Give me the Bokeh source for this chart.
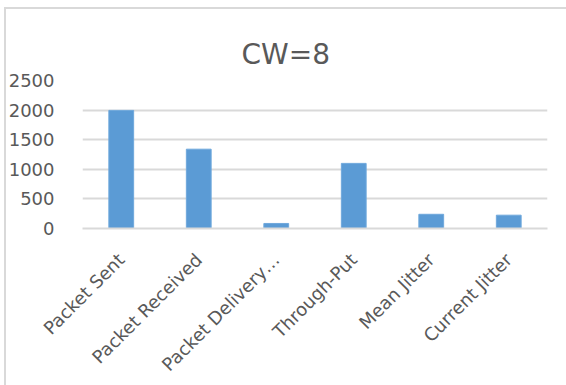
import math
from bokeh.plotting import figure
from bokeh.models import FactorRange, Range1d, FixedTicker, ColumnDataSource, InlineStyleSheet
from bokeh.embed import file_html
from bokeh.resources import INLINE

categories = ["Packet Sent", "Packet Received", "Packet Delivery\u2026", "Through-Put", "Mean Jitter", "Current Jitter"]
values = [1995, 1340, 85, 1100, 240, 225]
y_ticks = [0, 500, 1000, 1500, 2000, 2500]
title_text = "CW=8"

FONT = "DejaVu Sans"
GRAY = "#595959"
GRID = "#d9d9d9"

p = figure(width=566, height=385, output_backend="svg", toolbar_location=None,
           x_range=FactorRange(*categories, range_padding=0),
           y_range=Range1d(0, 2500),
           min_border_left=82, min_border_right=19, min_border_top=80, min_border_bottom=156)

p.stylesheets = [InlineStyleSheet(css=(
    ":host::after { content: ''; position: absolute; left: 4px; top: 7px; "
    "width: 700px; height: 500px; border-left: 2px solid #d9d9d9; border-top: 2px solid #d9d9d9; "
    "pointer-events: none; }"
))]

src = ColumnDataSource(dict(cat=categories, val=values))
p.vbar(x="cat", top="val", width=0.32, source=src, fill_color="#5B9BD5", line_color="#6FA8DC", line_width=1)

p.title.text = title_text
p.title.align = "left"
p.title.offset = 159
p.title.standoff = 19
p.title.text_font = FONT
p.title.text_font_size = "28px"
p.title.text_font_style = "normal"
p.title.text_color = GRAY

p.outline_line_color = None
p.xgrid.grid_line_color = None
p.ygrid.grid_line_color = GRID
p.ygrid.grid_line_width = 2
p.yaxis.ticker = FixedTicker(ticks=y_ticks)
p.yaxis.axis_line_color = None
p.yaxis.major_tick_line_color = None
p.yaxis.minor_tick_line_color = None
p.yaxis.major_label_text_color = GRAY
p.yaxis.major_label_text_font = FONT
p.yaxis.major_label_text_font_size = "18px"
p.yaxis.major_label_standoff = 22

p.xaxis.axis_line_color = GRID
p.xaxis.axis_line_width = 2
p.xaxis.major_tick_line_color = None
p.xaxis.minor_tick_line_color = None
p.xaxis.major_label_orientation = math.pi / 4
p.xaxis.major_label_text_color = GRAY
p.xaxis.major_label_text_font = FONT
p.xaxis.major_label_text_font_size = "18px"
p.xaxis.major_label_standoff = 22

open("out.html", "w").write(file_html(p, INLINE))
